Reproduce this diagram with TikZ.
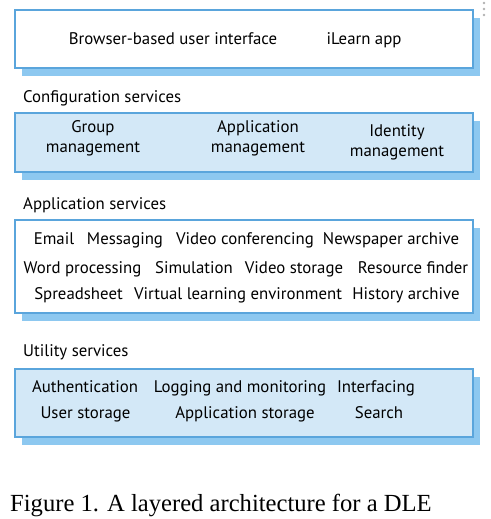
\documentclass[tikz,border=0pt]{standalone}
\usepackage{fontspec}
\setmainfont{PT Sans}
\newfontfamily\captionfont{Liberation Serif}
\usetikzlibrary{positioning, shadows}

\definecolor{layerfill}{RGB}{211,232,247}
\definecolor{layerline}{RGB}{90,165,220}
\definecolor{layershadow}{RGB}{141,200,240}

\begin{document}
\begin{tikzpicture}[
		x=1pt, y=-1pt,
		layer/.style={draw=layerline, line width=1.4pt, minimum width=458pt, inner sep=0pt,
			general shadow={fill=layershadow, shadow xshift=7pt, shadow yshift=-8pt}},
		item/.style={font=\fontsize{16.8}{20}\selectfont, anchor=base, inner sep=0pt},
		pair/.style={font=\fontsize{16.8}{20}\selectfont, align=center, inner sep=0pt},
		title/.style={font=\fontsize{16.8}{20}\selectfont, anchor=base west, inner sep=0pt}
	]
	
		\useasboundingbox (0,0) rectangle (490,519);
		
		% Layers
		\node[layer, fill=white, minimum height=58pt] (ui) at (244,39) {};
		\node[layer, fill=layerfill, minimum height=59pt] (config) at (244,142.5) {};
		\node[layer, fill=white, minimum height=93pt] (appserv) at (244,266.5) {};
		\node[layer, fill=layerfill, minimum height=68pt] (utility) at (244,403) {};
		
		% Layer titles
		\node[title] (configtitle) at (23,102.5) {Configuration services};
		\node[title] (apptitle) at (23,209) {Application services};
		\node[title] (utiltitle) at (23,356) {Utility services};
		
		% User interface
		\node[item] (browser) at (173,44.5) {Browser-based user interface};
		\node[item] (ilearn) at (364,45) {iLearn app};
		
		% Configuration services
		\node[pair] (group) at (93,138) {Group\\management};
		\node[pair] (appmgmt) at (258,138) {Application\\management};
		\node[pair] (identity) at (397,142.5) {Identity\\management};
		
		% Application services
		\node[item] (email) at (54,244) {Email};
		\node[item] (messaging) at (125,244) {Messaging};
		\node[item] (videoconf) at (245,244) {Video conferencing};
		\node[item] (newspaper) at (391,244) {Newspaper archive};
		\node[item] (word) at (82.5,273) {Word processing};
		\node[item] (simulation) at (194,273) {Simulation};
		\node[item] (videostore) at (294,273) {Video storage};
		\node[item] (resource) at (413,273) {Resource finder};
		\node[item] (spreadsheet) at (78.5,299) {Spreadsheet};
		\node[item] (vle) at (238,299) {Virtual learning environment};
		\node[item] (history) at (406,299) {History archive};
		
		% Utility services
		\node[item] (auth) at (85,392.5) {Authentication};
		\node[item] (logging) at (240,392.5) {Logging and monitoring};
		\node[item] (interfacing) at (376,392.5) {Interfacing};
		\node[item] (userstore) at (85.5,418.5) {User storage};
		\node[item] (appstore) at (245,418.5) {Application storage};
		\node[item] (search) at (379,418.5) {Search};
		
		% Menu dots
		\foreach \y in {3,9,15}
			\fill[gray!60] (484,\y) circle (1.3pt);
		
		% Caption
		\node[anchor=base west, inner sep=0pt, font=\captionfont\fontsize{24.6}{28}\selectfont] (caption) at (10,511.5) {Figure 1. A layered architecture for a DLE};
		
	\end{tikzpicture}
\end{document}
